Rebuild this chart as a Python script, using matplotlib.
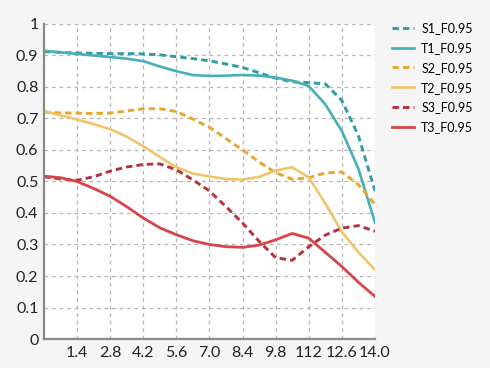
import matplotlib
matplotlib.use('Agg')
import matplotlib.pyplot as plt

x_vals = [0.0, 0.7, 1.4, 2.1, 2.8, 3.5, 4.2, 4.9, 5.6, 6.3, 7.0,
          7.7, 8.4, 9.1, 9.8, 10.5, 11.2, 11.9, 12.6, 13.3, 14.0]

s1 = [0.912, 0.910, 0.908, 0.907, 0.906, 0.906, 0.905, 0.902, 0.896, 0.890, 0.883,
      0.873, 0.862, 0.845, 0.828, 0.816, 0.814, 0.810, 0.757, 0.645, 0.470]
t1 = [0.915, 0.910, 0.905, 0.900, 0.895, 0.890, 0.882, 0.865, 0.850, 0.838, 0.835,
      0.836, 0.838, 0.836, 0.830, 0.820, 0.803, 0.745, 0.660, 0.540, 0.370]
s2 = [0.720, 0.718, 0.717, 0.716, 0.717, 0.724, 0.731, 0.731, 0.722, 0.698, 0.672,
      0.636, 0.600, 0.562, 0.528, 0.507, 0.512, 0.527, 0.530, 0.490, 0.427]
t2 = [0.724, 0.710, 0.697, 0.682, 0.666, 0.642, 0.612, 0.578, 0.545, 0.525, 0.516,
      0.508, 0.506, 0.515, 0.535, 0.545, 0.513, 0.430, 0.340, 0.275, 0.220]
s3 = [0.515, 0.508, 0.504, 0.515, 0.533, 0.546, 0.554, 0.556, 0.537, 0.505, 0.470,
      0.420, 0.368, 0.310, 0.258, 0.250, 0.293, 0.330, 0.352, 0.360, 0.342]
t3 = [0.517, 0.512, 0.500, 0.478, 0.453, 0.420, 0.384, 0.353, 0.331, 0.312, 0.300,
      0.293, 0.291, 0.298, 0.315, 0.335, 0.320, 0.275, 0.230, 0.180, 0.135]

x_ticks = [1.4, 2.8, 4.2, 5.6, 7.0, 8.4, 9.8, 11.2, 12.6, 14.0]
x_tick_labels = ['1.4', '2.8', '4.2', '5.6', '7.0', '8.4', '9.8', '112', '12.6', '14.0']
y_ticks = [0, 0.1, 0.2, 0.3, 0.4, 0.5, 0.6, 0.7, 0.8, 0.9, 1.0]
y_tick_labels = ['0', '0.1', '0.2', '0.3', '0.4', '0.5', '0.6', '0.7', '0.8', '0.9', '1']

plt.rcParams['font.family'] = ['Lato', 'DejaVu Sans']

fig = plt.figure(figsize=(4.9, 3.68), dpi=100, facecolor='#f5f5f5')
ax = fig.add_axes([0.0898, 0.0788, 0.6755, 0.856])
ax.set_facecolor('white')

teal_d = '#2f9ea3'
teal = '#45b0b6'
yel_d = '#e8a72c'
yel = '#f2c46a'
red_d = '#b5333d'
red = '#d8444a'

dash = (0, (2.2, 1.4))
ax.plot(x_vals, s1, color=teal_d, lw=2.1, ls=dash, label='S1_F0.95')
ax.plot(x_vals, t1, color=teal, lw=1.9, label='T1_F0.95')
ax.plot(x_vals, s2, color=yel_d, lw=2.1, ls=dash, label='S2_F0.95')
ax.plot(x_vals, t2, color=yel, lw=1.9, label='T2_F0.95')
ax.plot(x_vals, s3, color=red_d, lw=2.1, ls=dash, label='S3_F0.95')
ax.plot(x_vals, t3, color=red, lw=2.0, label='T3_F0.95')

ax.set_xlim(0, 14)
ax.set_ylim(0, 1)
ax.set_xticks(x_ticks)
ax.set_xticklabels(x_tick_labels)
ax.set_yticks(y_ticks)
ax.set_yticklabels(y_tick_labels)
ax.tick_params(length=0, labelsize=11.5, colors='#222222')
ax.tick_params(axis='y', pad=4)
ax.tick_params(axis='x', pad=5)

ax.grid(True, ls=(0, (3, 3)), color='#b5b5b5', lw=0.9)
ax.set_axisbelow(True)

for side in ['top', 'right']:
    ax.spines[side].set_visible(False)
for side in ['left', 'bottom']:
    ax.spines[side].set_color('#8a8a8a')
    ax.spines[side].set_linewidth(1.6)

fig.legend(loc='upper left', bbox_to_anchor=(0.778, 0.97), frameon=False,
           fontsize=9, handlelength=1.7, handletextpad=0.6, labelspacing=0.62)

fig.savefig('out.png', dpi=100, facecolor=fig.get_facecolor())
